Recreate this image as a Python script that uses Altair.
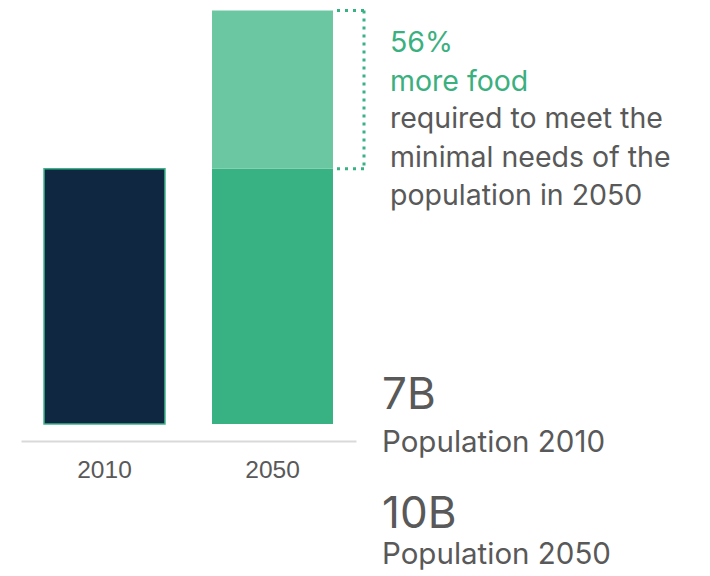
import altair as alt
import pandas as pd

# ---- data ----
years = ["2010", "2050"]
parts = ["2010", "2050 base", "2050 extra"]
part_years = ["2010", "2050", "2050"]
part_values = [100, 100, 62]          # food need index
part_order = [0, 0, 1]
part_colors = ["#0F2740", "#38B183", "#6BC7A1"]
part_strokes = ["#3DB389", "transparent", "transparent"]

green_lines = "56%\nmore food"
gray_lines = "required to meet the\nminimal needs of the\npopulation in 2050"
pop_numbers = ["7B", "10B"]
pop_labels = ["Population 2010", "Population 2050"]

GREEN = "#3BB07F"
GRAY = "#595959"
FONT = "Inter"

bars_df = pd.DataFrame({
    "year": part_years,
    "part": parts,
    "value": part_values,
    "order": part_order,
})

base_total = part_values[1]
full_total = part_values[1] + part_values[2]
bracket_df = pd.DataFrame({"top": [full_total], "bottom": [base_total]})

yscale = alt.Scale(domain=[0, 163], nice=False)

bars = alt.Chart(bars_df).mark_bar(strokeWidth=1.5).encode(
    x=alt.X("year:N", sort=years, title=None,
            scale=alt.Scale(domain=years, range=[13, 348], paddingInner=0.28, paddingOuter=0.137),
            axis=alt.Axis(labelAngle=0, labelFont="Liberation Sans", labelFontSize=24.5,
                          labelColor=GRAY, ticks=False, tickSize=0, labelPadding=17,
                          domainColor="#D9D9D9", domainWidth=2, offset=17, grid=False)),
    y=alt.Y("value:Q", stack="zero", scale=yscale, axis=None),
    color=alt.Color("part:N", scale=alt.Scale(domain=parts, range=part_colors), legend=None),
    stroke=alt.Stroke("part:N", scale=alt.Scale(domain=parts, range=part_strokes), legend=None),
    order=alt.Order("order:Q"),
)

dash = dict(color="#38B183", strokeWidth=3, strokeDash=[3, 5])
br_top = alt.Chart(bracket_df).mark_rule(**dash).encode(
    y=alt.Y("top:Q", scale=yscale, axis=None), x=alt.value(329), x2=alt.value(357))
br_bottom = alt.Chart(bracket_df).mark_rule(**dash).encode(
    y=alt.Y("bottom:Q", scale=yscale, axis=None), x=alt.value(329), x2=alt.value(357))
br_side = alt.Chart(bracket_df).mark_rule(**dash).encode(
    y=alt.Y("top:Q", scale=yscale, axis=None), y2="bottom:Q", x=alt.value(356))

def txt(s, x, y, size, color):
    return alt.Chart(pd.DataFrame({"t": [s]})).mark_text(
        align="left", baseline="alphabetic", font=FONT, fontSize=size, color=color,
        lineBreak="\n", lineHeight=38.5,
    ).encode(text="t:N", x=alt.value(x), y=alt.value(y))

layers = [
    bars, br_top, br_bottom, br_side,
    txt(green_lines, 382, 44, 28.5, GREEN),
    txt(gray_lines, 382, 120, 28.5, GRAY),
    txt(pop_numbers[0], 374, 401, 44, GRAY),
    txt(pop_labels[0], 374, 444, 29.5, GRAY),
    txt(pop_numbers[1], 374, 520, 44, GRAY),
    txt(pop_labels[1], 374, 556, 29.5, GRAY),
]

chart = alt.layer(*layers).properties(
    width=694, height=416, autosize="none",
    padding={"left": 0, "top": 0, "right": 0, "bottom": 152},
).configure_view(stroke=None)

chart.save("out.html", embed_options={"renderer": "svg", "actions": False})
